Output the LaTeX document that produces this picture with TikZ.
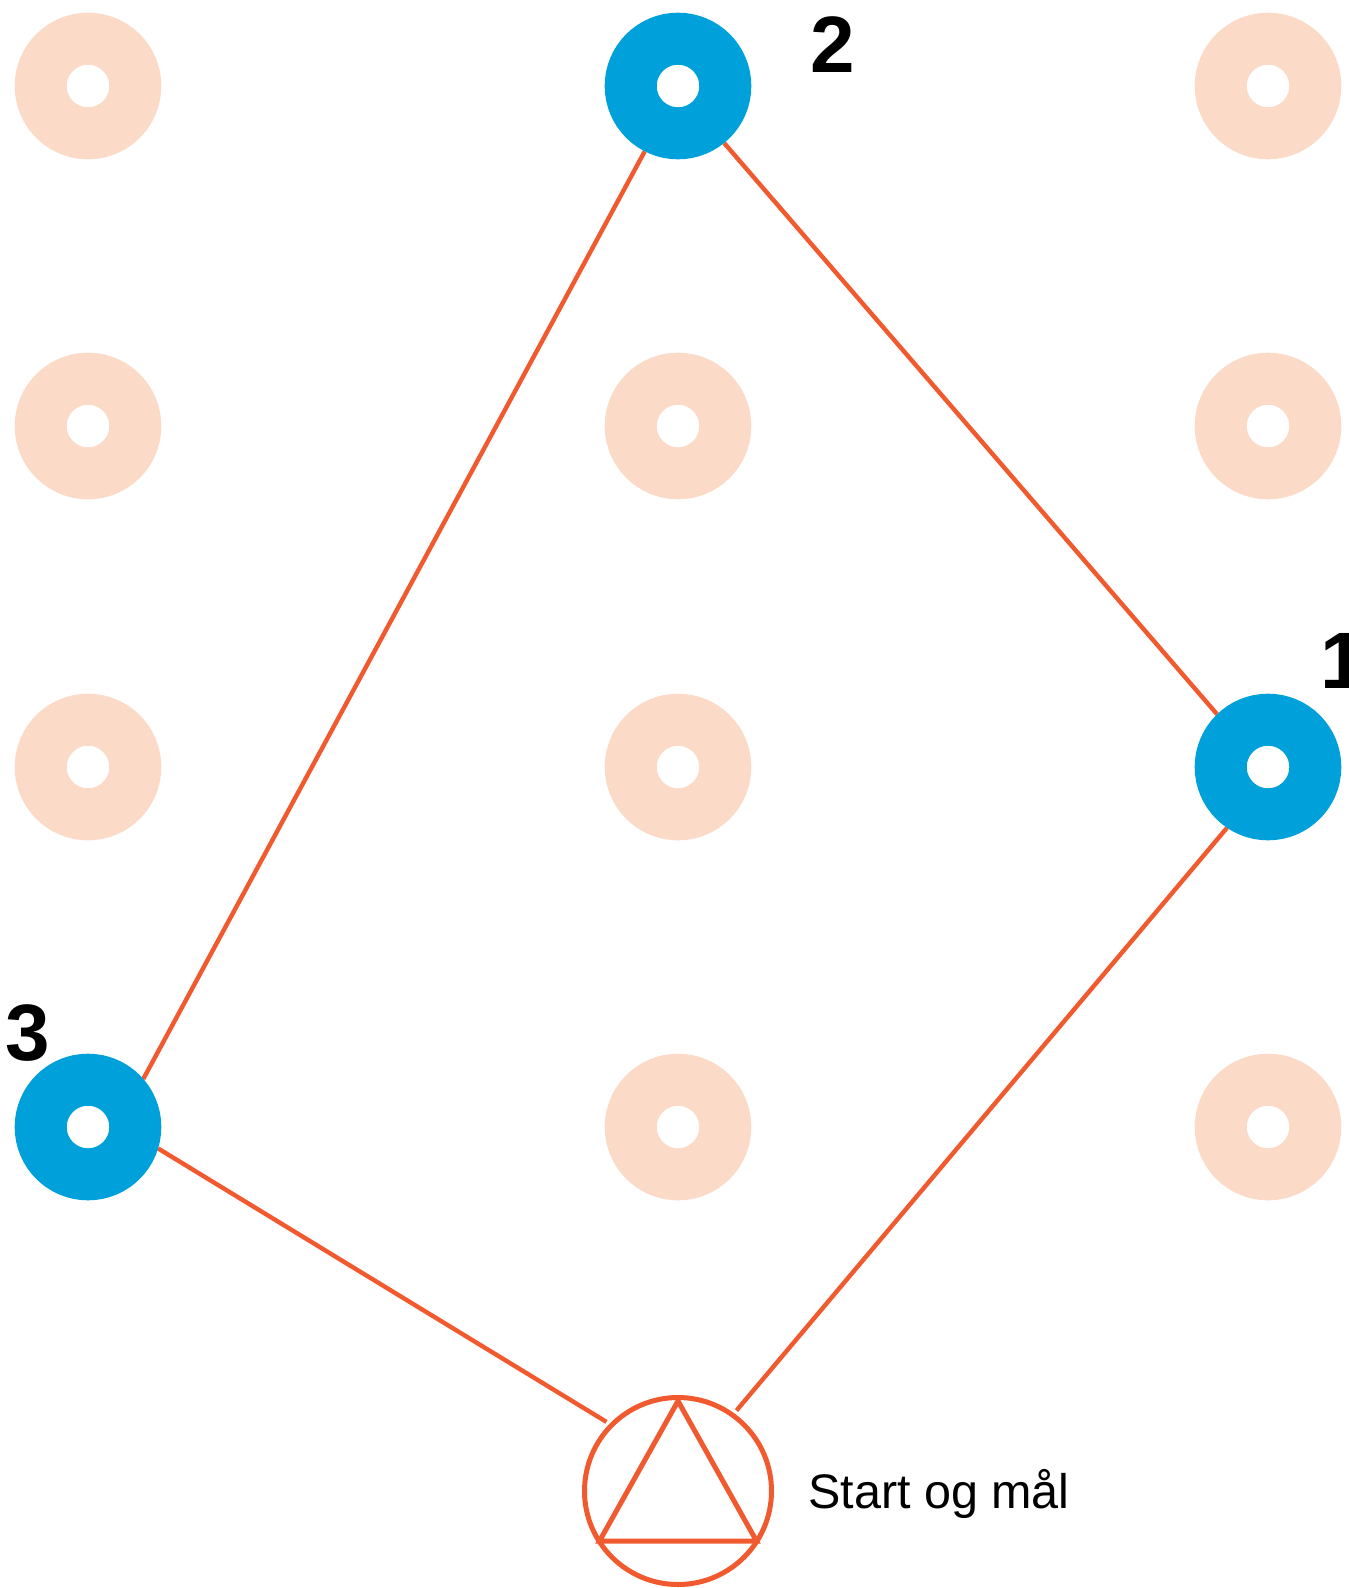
\documentclass[tikz,border=0pt]{standalone}
\usepackage{fontspec}
\setmainfont{Liberation Sans}
\usetikzlibrary{backgrounds}
\definecolor{ringblue}{HTML}{00A0DB}
\definecolor{ringpale}{HTML}{FCDAC8}
\definecolor{route}{HTML}{F15A2F}
\begin{document}
\begin{tikzpicture}[x=1pt,y=-1pt,
  ring/.style={circle, draw=#1, fill=white, line width=52pt, minimum size=94.6pt, inner sep=0pt},
  post/.style={ring=ringblue},
  spare/.style={ring=ringpale},
  leg/.style={draw=route, line width=4.4pt},
  num/.style={font=\fontsize{80}{80}\selectfont\bfseries, inner sep=0pt, anchor=base},
  startring/.style={circle, draw=route, line width=5pt, minimum size=187pt, inner sep=0pt, outer sep=6pt},
  caption/.style={font=\fontsize{48.5}{48.5}\selectfont, inner sep=0pt, anchor=base west}]
\useasboundingbox (0,0) rectangle (1349,1588);

% pale (unused) posts
\node[spare] (p11) at (88,86) {};
\node[spare] (p13) at (1268,86) {};
\node[spare] (p21) at (88,426) {};
\node[spare] (p22) at (678,426) {};
\node[spare] (p23) at (1268,426) {};
\node[spare] (p31) at (88,767) {};
\node[spare] (p32) at (678,767) {};
\node[spare] (p42) at (678,1127) {};
\node[spare] (p43) at (1268,1127) {};

% control posts
\node[post] (n2) at (678,86) {};
\node[post] (n1) at (1268,767) {};
\node[post] (n3) at (88,1127) {};

% start / finish
\node[startring] (start) at (678,1491) {};
\draw[route, line width=5pt, line join=miter]
  ([shift={(0,-90)}]start.center) -- ([shift={(-78.5,50)}]start.center)
  -- ([shift={(78.5,50)}]start.center) -- cycle;

% route legs
\begin{scope}[on background layer]
  \draw[leg] (start.54.4) -- (n1.236);
  \draw[leg] (n1.134) -- (n2.309.3);
  \draw[leg] (n2.243.5) -- (n3.41.5);
  \draw[leg] (n3.343) -- (start.136.2);
\end{scope}

% labels
\node[num] (l1) at (1343,688) {1};
\node[num] (l2) at (833,72.7) {2};
\node[num] (l3) at (27.5,1060) {3};
\node[caption] (cap) at (808,1508) {Start og mål};
\end{tikzpicture}
\end{document}
